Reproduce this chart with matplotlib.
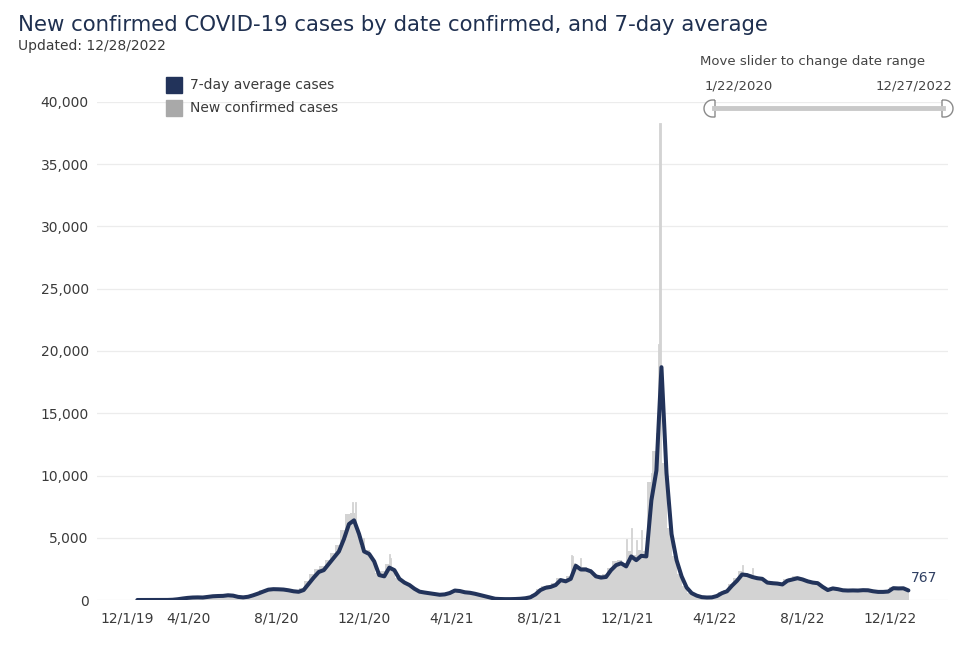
import matplotlib
matplotlib.use("Agg")
import matplotlib.pyplot as plt
from matplotlib.path import Path
from matplotlib.patches import PathPatch
from matplotlib.lines import Line2D
import numpy as np
import pandas as pd

# 7-day average, one reading per week, ending 12/27/2022
avg7 = [
    0, 0, 0, 0, 0, 0, 5, 20, 60, 120,
    170, 200, 210, 200, 250, 300, 320, 330, 380, 350,
    250, 210, 260, 380, 520, 680, 830, 870, 860, 840,
    780, 700, 660, 800, 1300, 1800, 2250, 2400, 2900, 3400,
    3900, 4900, 6100, 6400, 5300, 3900, 3700, 3100, 2000, 1900,
    2600, 2400, 1700, 1400, 1200, 900, 670, 600, 540, 480,
    420, 450, 560, 760, 720, 620, 580, 500, 400, 300,
    200, 100, 80, 70, 70, 80, 100, 140, 220, 450,
    800, 980, 1050, 1200, 1600, 1500, 1700, 2750, 2450, 2450,
    2300, 1900, 1800, 1850, 2400, 2800, 2950, 2700, 3500, 3200,
    3550, 3500, 8000, 10400, 18700, 10200, 5300, 3200, 1900, 1000,
    550, 350, 230, 200, 210, 320, 550, 700, 1150, 1550,
    2050, 2000, 1850, 1750, 1700, 1400, 1350, 1320, 1250, 1550,
    1650, 1750, 1650, 1500, 1400, 1350, 1050, 800, 930, 870,
    780, 760, 770, 760, 790, 780, 700, 650, 650, 680,
    950, 930, 940, 767,
]

# new confirmed cases, typical daily level for each week
week_cases = [
    0, 0, 0, 0, 0, 2, 10, 40, 90, 150,
    190, 230, 220, 230, 280, 330, 350, 360, 400, 340,
    250, 230, 300, 430, 600, 780, 900, 930, 900, 880,
    820, 740, 720, 950, 1500, 2050, 2500, 2700, 3200, 3800,
    4400, 5600, 6900, 7000, 5500, 4300, 4000, 3300, 2200, 2300,
    2900, 2500, 1800, 1500, 1300, 950, 720, 650, 580, 520,
    460, 500, 640, 820, 760, 660, 620, 540, 430, 320,
    210, 110, 90, 80, 80, 90, 110, 160, 260, 520,
    880, 1100, 1200, 1350, 1800, 1700, 1950, 3000, 2700, 2650,
    2500, 2100, 2000, 2050, 2600, 3100, 3200, 3000, 3900, 3600,
    4000, 3900, 9500, 12000, 14000, 11000, 5800, 3500, 2100, 1100,
    600, 380, 250, 220, 240, 360, 620, 800, 1300, 1750,
    2300, 2200, 2050, 1900, 1850, 1550, 1500, 1450, 1400, 1700,
    1800, 1900, 1800, 1650, 1550, 1500, 1150, 900, 1000, 950,
    860, 830, 840, 830, 860, 850, 770, 720, 700, 750,
    1050, 1000, 1000, 850,
]

# single days that stand out above the weekly level
spike_days = ["2020-11-13", "2020-11-15", "2020-11-19", "2020-11-30", "2021-01-05",
              "2021-01-07", "2021-09-15", "2021-09-17", "2021-09-28", "2021-11-30",
              "2021-12-07", "2021-12-14", "2021-12-21", "2022-01-04", "2022-01-11",
              "2022-01-13", "2022-01-14", "2022-01-16", "2022-05-10", "2022-05-24",
              "2022-07-19"]
spike_cases = [7000, 7900, 7900, 5000, 3700,
               3400, 3600, 3500, 3400, 4900,
               5800, 4800, 5600, 10200, 13400,
               13600, 20600, 38300, 2800, 2600,
               1900]

x_ticks = ["2019-12-01", "2020-04-01", "2020-08-01", "2020-12-01", "2021-04-01",
           "2021-08-01", "2021-12-01", "2022-04-01", "2022-08-01", "2022-12-01"]
x_labels = ["12/1/19", "4/1/20", "8/1/20", "12/1/20", "4/1/21",
            "8/1/21", "12/1/21", "4/1/22", "8/1/22", "12/1/22"]
y_ticks = [0, 5000, 10000, 15000, 20000, 25000, 30000, 35000, 40000]

NAVY = "#22335a"
GREY = "#d3d3d3"
TXT = "#3a3a3a"

dates = pd.date_range(end="2022-12-27", periods=len(avg7), freq="7D")
spikes = pd.to_datetime(spike_days)

W, H = 980, 645
fig = plt.figure(figsize=(W / 100, H / 100), dpi=100)
ax = fig.add_axes([97 / W, 1 - 600 / H, 851 / W, 498 / H])

ax.bar(dates - pd.Timedelta(days=6), week_cases, width=7, align="edge",
       color=GREY, linewidth=0, zorder=2)
ax.bar(spikes, spike_cases, width=1.5, color=GREY, edgecolor=GREY,
       linewidth=0.6, zorder=2)
ax.plot(dates, avg7, color=NAVY, lw=2.9, zorder=3, solid_joinstyle="round",
        solid_capstyle="round")

ax.annotate(f"{avg7[-1]:,}", (dates[-1], avg7[-1]), xytext=(2, 12),
            textcoords="offset pixels", ha="left", va="center",
            fontsize=10, color="#2f3f62")

ax.set_ylim(0, 40000)
ax.set_xlim(pd.Timestamp("2019-11-26"), pd.Timestamp("2023-02-20"))
ax.set_yticks(y_ticks)
ax.set_yticklabels([f"{v:,}" for v in y_ticks])
ax.set_xticks(pd.to_datetime(x_ticks))
ax.set_xticklabels(x_labels)
ax.get_xticklabels()[0].set_horizontalalignment("left")
ax.tick_params(axis="both", length=0, labelsize=10, labelcolor=TXT)
ax.tick_params(axis="y", pad=6)
ax.tick_params(axis="x", pad=8)
ax.grid(axis="y", color="#ececec", lw=0.9, zorder=0)
ax.set_axisbelow(True)
for s in ax.spines.values():
    s.set_visible(False)


def fx(x):
    return x / W


def fy(y):
    return 1 - y / H


# title block
fig.text(fx(18), fy(25), "New confirmed COVID-19 cases by date confirmed, and 7-day average",
         fontsize=15.3, color="#1f3050", va="center", ha="left")
fig.text(fx(18), fy(46), "Updated: 12/28/2022", fontsize=10, color=TXT,
         va="center", ha="left")

# legend
for y, c, lab in [(85, NAVY, "7-day average cases"), (108, "#a9a9a9", "New confirmed cases")]:
    fig.patches.append(plt.Rectangle((fx(166), fy(y + 8)), 16 / W, 16 / H,
                                     transform=fig.transFigure, color=c))
    fig.text(fx(190), fy(y), lab, fontsize=10, color=TXT, va="center", ha="left")

# slider widget
fig.text(fx(700), fy(61), "Move slider to change date range", fontsize=9.5,
         color="#444444", va="center", ha="left")
fig.text(fx(705), fy(86), "1/22/2020", fontsize=9.5, color="#444444", va="center", ha="left")
fig.text(fx(952), fy(86), "12/27/2022", fontsize=9.5, color="#444444", va="center", ha="right")
fig.add_artist(Line2D([fx(714), fx(943)], [fy(108), fy(108)], transform=fig.transFigure,
                      color="#c9c9c9", lw=3.5))


def handle(x_flat, bulge):
    # D-shaped slider handle, flat side at x_flat, rounded towards bulge (-1 left, +1 right)
    r = 8.5
    cx = x_flat + bulge * 2.5
    t = np.linspace(np.pi / 2, 3 * np.pi / 2, 40)
    xs = cx - bulge * r * np.cos(t)
    ys = 108.5 - r * np.sin(t)
    pts = [(x_flat, 100)] + list(zip(xs, ys)) + [(x_flat, 117), (x_flat, 100)]
    verts = [(fx(a), fy(b)) for a, b in pts]
    fig.add_artist(PathPatch(Path(verts), transform=fig.transFigure,
                             facecolor="white", edgecolor="#8a8a8a", lw=1.0))


handle(715, -1)
handle(942, 1)

fig.savefig("out.png", dpi=100, facecolor="white")
